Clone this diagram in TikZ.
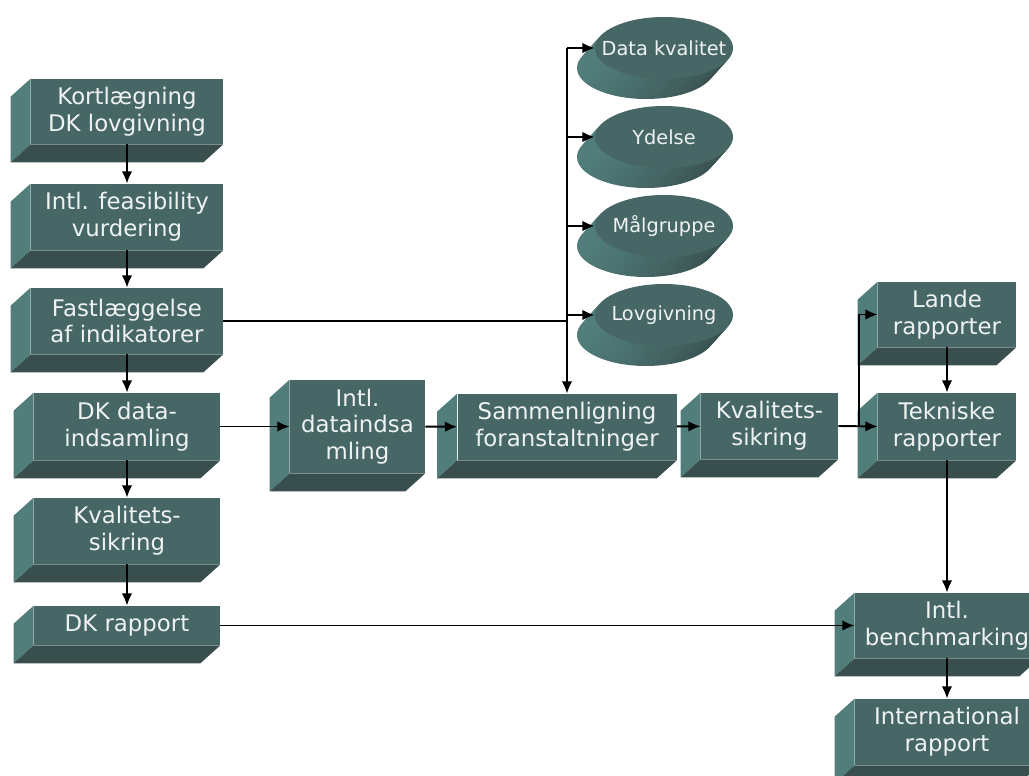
\documentclass[tikz,border=0pt]{standalone}
\usepackage{fontspec}
\setmainfont{DejaVu Sans}
\usepackage{tikz}
\usetikzlibrary{calc,positioning,shapes.geometric,arrows.meta}

\definecolor{frontc}{HTML}{466765}
\definecolor{sidec}{HTML}{517E7B}
\definecolor{bottomc}{HTML}{384F4E}
\definecolor{boxtext}{HTML}{EEF3F2}

\begin{document}
\begin{tikzpicture}[
                x=0.02cm,y=-0.02cm,
                box/.style={fill=frontc,text=boxtext,align=center,inner sep=0pt,
                    font=\fontsize{13}{15.2}\selectfont},
                sz/.style 2 args={minimum width=#1*0.02cm,minimum height=#2*0.02cm},
                oval/.style={ellipse,fill=frontc,inner sep=0pt,
                    minimum width=138*0.02cm,minimum height=62*0.02cm},
                ovaltext/.style={text=boxtext,inner sep=0pt,font=\fontsize{11}{13}\selectfont},
                link/.style={-{Latex[length=7pt,width=6pt]},line width=1.1pt}
            ]
                \clip (0,0) rectangle (1029,776);
                % left column
                \node (kort)   [box,sz={192}{65}] at (127,111.5) {Kortlægning\\DK lovgivning};
                \node (feas)   [box,sz={192}{66}] at (127,217)   {Intl. feasibility\\vurdering};
                \node (fast)   [box,sz={192}{66}] at (127,321)   {Fastlæggelse\\af indikatorer};
                \node (dkdata) [box,sz={186}{67}] at (127,426.5) {DK data-\\indsamling};
                \node (kvalL)  [box,sz={186}{66}] at (127,531)   {Kvalitets-\\sikring};
                \node (dkrap)  [box,sz={186}{39}] at (127,625.5) {DK rapport};
                % middle row
                \node (intldata) [box,sz={135}{93}] at (357.5,426.5) {Intl.\\dataindsa\\mling};
                \node (samm)     [box,sz={219}{66}] at (567,427)     {Sammenligning\\foranstaltninger};
                \node (kvalM)    [box,sz={137}{66}] at (769.5,426)   {Kvalitets-\\sikring};
                % right column
                \node (lande)  [box,sz={138}{65}] at (947,314.5) {Lande\\rapporter};
                \node (tek)    [box,sz={138}{67}] at (947,426.5) {Tekniske\\rapporter};
                \node (bench)  [box,sz={184}{65}] at (947,625.5) {Intl.\\benchmarking};
                \node (intrap) [box,sz={184}{66}] at (947,732)   {International\\rapport};
                % bevels
                \foreach \n in {kort,feas,fast,dkdata,kvalL,dkrap,intldata,samm,kvalM,lande,tek,bench,intrap} {
                    \fill[sidec] (\n.north west) -- ++(-20,18) -- ($(\n.south west)+(-20,18)$) -- (\n.south west) -- cycle;
                    \fill[bottomc] (\n.south west) -- ++(-20,18) -- ($(\n.south east)+(-20,18)$) -- (\n.south east) -- cycle;
                }
                % ovals
                \foreach \e/\y/\t in {dq/48/Data kvalitet,ydelse/137/Ydelse,maal/226/Målgruppe,lov/315/Lovgivning} {
                    \foreach \k in {10,9,...,1}
                        \shade[left color=sidec,right color=bottomc]
                            (664-1.8*\k,\y+2*\k) ellipse [x radius=69,y radius=31];
                    \node (\e) [oval,label={[ovaltext]center:\t}] at (664,\y) {};
                }
                % connectors
                \draw[link] (kort) -- (feas);
                \draw[link] (feas) -- (fast);
                \draw[link] (fast) -- (dkdata);
                \draw[link] (dkdata) -- (kvalL);
                \draw[link] (kvalL) -- (dkrap);
                \draw[link] (dkdata) -- (intldata);
                \draw[link] (intldata) -- (samm);
                \draw[link] (samm) -- (kvalM);
                \draw[line width=1.1pt] (fast.east) -- (fast.east -| samm.north);
                \draw[link] (samm.north |- dq.west) -- (samm.north);
                \foreach \e in {dq,ydelse,maal,lov}
                    \draw[link] (samm.north |- \e.west) -- (\e.west);
                \coordinate (split) at (859,426);
                \draw[link] (kvalM.east) -- (tek.west);
                \draw[link] (split) |- (lande.west);
                \draw[link] (lande) -- (tek);
                \draw[link] (tek) -- (bench);
                \draw[link] (dkrap) -- (bench);
                \draw[link] (bench) -- (intrap);
            \end{tikzpicture}
\end{document}
